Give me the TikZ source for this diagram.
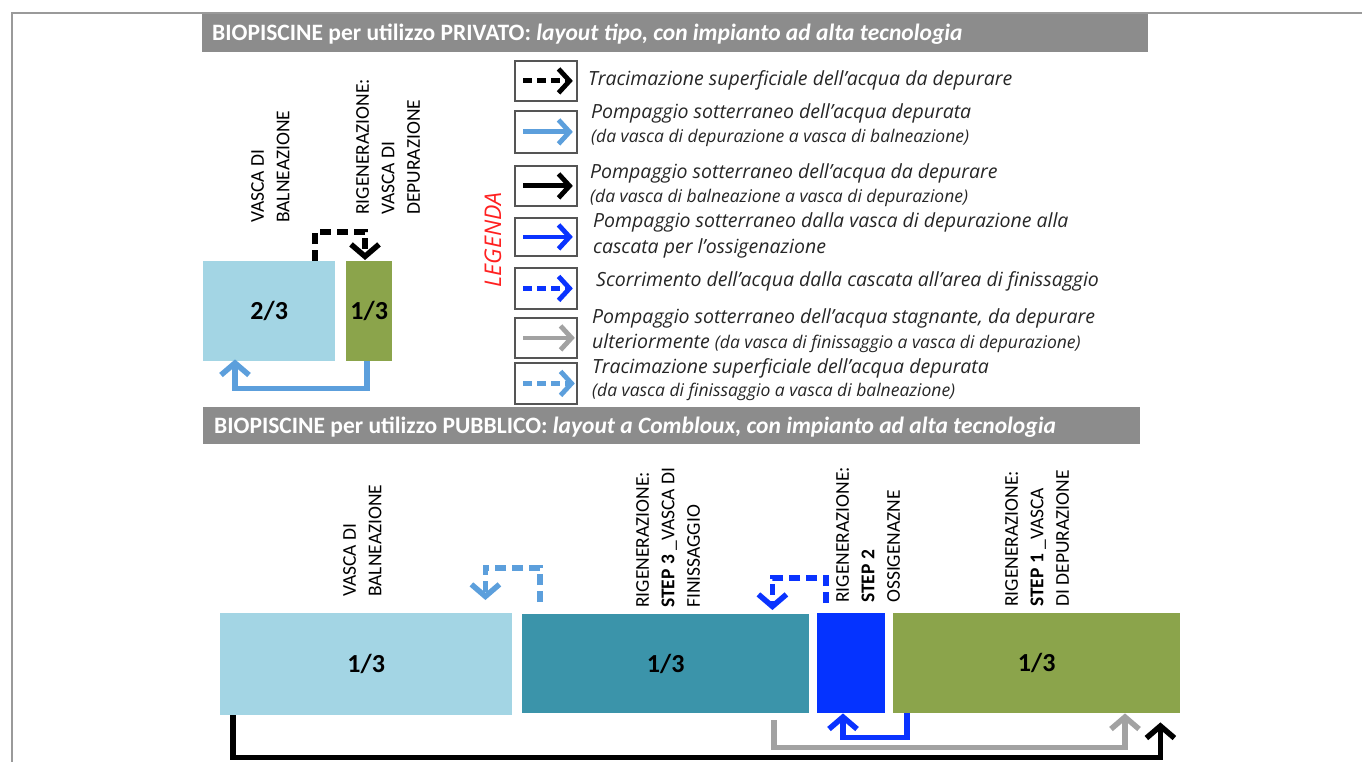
\documentclass[tikz,border=0pt]{standalone}
\usepackage{fontspec}
\setmainfont{Carlito}
\newfontfamily\legfont{Open Sans}
\usetikzlibrary{arrows.meta,calc}
\definecolor{framegray}{HTML}{9A9A9A}
\definecolor{hdrgray}{HTML}{8C8C8C}
\definecolor{poolblue}{HTML}{A3D5E4}
\definecolor{poolteal}{HTML}{3B94AA}
\definecolor{poolbright}{HTML}{0533FF}
\definecolor{poolgreen}{HTML}{8BA44B}
\definecolor{arrlight}{HTML}{5C9FDC}
\definecolor{arrblue}{HTML}{0A33FF}
\definecolor{arrgray}{HTML}{A2A2A2}
\definecolor{boxgray}{HTML}{555555}
\definecolor{legred}{HTML}{FF2020}
\tikzset{
  hdrbar/.style={fill=hdrgray, draw=none, anchor=north west, inner sep=0pt},
  hdrtext/.style={anchor=west, inner sep=0pt, text=white, font=\fontsize{23.5}{26}\selectfont\bfseries},
  pool/.style={draw=none, anchor=north west, inner sep=0pt, font=\fontsize{26}{30}\selectfont\bfseries},
  rlab/.style={rotate=90, anchor=north west, inner sep=0pt, align=left, font=\fontsize{19.5}{25.5}\selectfont},
  lbox/.style={draw=boxgray, line width=1.8pt, fill=white, anchor=north west, inner sep=0pt, minimum width=62pt},
  ltext/.style={anchor=west, inner sep=0pt, font=\legfont\itshape\fontsize{19.5}{22}\selectfont, text=black!85},
  lsmall/.style={anchor=west, inner sep=0pt, font=\legfont\itshape\fontsize{17.5}{20}\selectfont, text=black!85},
  tipA/.style={-{Straight Barb[length=12pt,width=28pt]}},
  tipL/.style={-{Straight Barb[length=11pt,width=24pt]}},
  fl/.style={line width=5.5pt, line join=miter},
  ll/.style={line width=4.8pt, line join=miter},
  dsh/.style={dash pattern=on 11pt off 6pt},
  ldsh/.style={dash pattern=on 9pt off 5pt},
}
\begin{document}
\begin{tikzpicture}[x=1pt,y=-1pt]
\useasboundingbox (0,0) rectangle (1362,762);
\fill[white] (0,0) rectangle (1362,762);
% frame
\draw[framegray, line width=2pt] (1362,13) -- (12,13) -- (12,762);

% header 1
\node[hdrbar, minimum width=946pt, minimum height=38pt] (h1) at (202,14) {};
\node[hdrtext] (h1t) at (212,34) {BIOPISCINE per utilizzo PRIVATO:\itshape\ layout tipo, con impianto ad alta tecnologia};

% private pools
\node[pool, fill=poolblue, minimum width=132pt, minimum height=100pt] (pa) at (203,261) {2/3};
\node[pool, fill=poolgreen, minimum width=46pt, minimum height=100pt] (pg) at (346,261) {1/3};
\node[rlab] (la1) at (251,223) {VASCA DI\\BALNEAZIONE};
\node[rlab] (la2) at (356,215) {RIGENERAZIONE:\\VASCA DI\\DEPURAZIONE};

\draw[fl, dsh, black, tipA] ($(pa.north west)+(112,0)$) -- ++(0,-29) -| ($(pg.north west)+(19,-1)$);
\draw[fl, arrlight, tipA] ($(pg.south west)+(21,0)$) -- ++(0,27) -| ($(pa.south west)+(32,-2)$);

% legend
\node[rotate=90, inner sep=0pt, text=legred, font=\legfont\itshape\fontsize{23}{25}\selectfont] (leg) at (493,240) {LEGENDA};

\node[lbox, minimum height=40pt] (b1) at (514,60) {};
\node[lbox, minimum height=42pt] (b2) at (514,110) {};
\node[lbox, minimum height=40pt] (b3) at (514,165) {};
\node[lbox, minimum height=38pt] (b4) at (514,217) {};
\node[lbox, minimum height=41pt] (b5) at (514,267) {};
\node[lbox, minimum height=40pt] (b6) at (514,317) {};
\node[lbox, minimum height=41pt] (b7) at (514,362) {};

\draw[ll, ldsh, black, tipL] ($(b1.west)+(9,0)$) -- ($(b1.east)+(-5,0)$);
\draw[ll, arrlight, tipL] ($(b2.west)+(9,0)$) -- ($(b2.east)+(-5,0)$);
\draw[ll, black, tipL] ($(b3.west)+(9,0)$) -- ($(b3.east)+(-5,0)$);
\draw[ll, arrblue, tipL] ($(b4.west)+(9,0)$) -- ($(b4.east)+(-5,0)$);
\draw[ll, ldsh, arrblue, tipL] ($(b5.west)+(9,0)$) -- ($(b5.east)+(-5,0)$);
\draw[ll, arrgray, tipL] ($(b6.west)+(9,0)$) -- ($(b6.east)+(-3,0)$);
\draw[ll, ldsh, arrlight, tipL] ($(b7.west)+(9,0)$) -- ($(b7.east)+(-3,0)$);

\node[ltext] (t1) at (588,80) {Tracimazione superficiale dell’acqua da depurare};
\node[ltext] (t2a) at (591,113) {Pompaggio sotterraneo dell’acqua depurata};
\node[lsmall] (t2b) at (591,138) {(da vasca di depurazione a vasca di balneazione)};
\node[ltext] (t3a) at (590,173) {Pompaggio sotterraneo dell’acqua da depurare};
\node[lsmall] (t3b) at (590,198) {(da vasca di balneazione a vasca di depurazione)};
\node[ltext] (t4a) at (593,222) {Pompaggio sotterraneo dalla vasca di depurazione alla};
\node[ltext] (t4b) at (593,248) {cascata per l’ossigenazione};
\node[ltext] (t5) at (596,281) {Scorrimento dell’acqua dalla cascata all’area di finissaggio};
\node[ltext] (t6a) at (592,318) {Pompaggio sotterraneo dell’acqua stagnante, da depurare};
\node[ltext] (t6b) at (592,343) {ulteriormente \fontsize{17.5}{20}\selectfont(da vasca di finissaggio a vasca di depurazione)};
\node[ltext] (t7a) at (592,368) {Tracimazione superficiale dell’acqua depurata};
\node[lsmall] (t7b) at (592,392) {(da vasca di finissaggio a vasca di balneazione)};

% header 2
\node[hdrbar, minimum width=937pt, minimum height=37pt] (h2) at (203,407) {};
\node[hdrtext] (h2t) at (214,427) {BIOPISCINE per utilizzo PUBBLICO:\itshape\ layout a Combloux, con impianto ad alta tecnologia};

% public pools
\node[pool, fill=poolblue, minimum width=292pt, minimum height=102pt] (pb) at (220,613) {1/3};
\node[pool, fill=poolteal, minimum width=287pt, minimum height=99pt] (pt) at (522,614) {1/3};
\node[pool, fill=poolbright, minimum width=68pt, minimum height=100pt] (pbl) at (817,613) {};
\node[pool, fill=poolgreen, minimum width=287pt, minimum height=100pt] (pgr) at (893,613) {1/3};

\node[rlab] (lb1) at (343,597) {VASCA DI\\BALNEAZIONE};
\node[rlab] (lb2) at (636,608) {RIGENERAZIONE:\\\textbf{STEP 3} \_VASCA DI\\FINISSAGGIO};
\node[rlab] (lb3) at (836,603) {RIGENERAZIONE:\\\textbf{STEP 2}\\OSSIGENAZNE};
\node[rlab] (lb4) at (1005,607) {RIGENERAZIONE:\\\textbf{STEP 1} \_VASCA\\DI DEPURAZIONE};

\draw[fl, dsh, arrlight, tipA] ($(pt.north west)+(18,-12)$) -- ++(0,-34) -| ($(pb.north east)+(-27,-13)$);
\draw[fl, dsh, arrblue, tipA] ($(pbl.north west)+(9,-10)$) -- ++(0,-25) -| ($(pt.north east)+(-37,-4)$);
\draw[fl, arrblue, tipA] ($(pgr.south west)+(14,0)$) -- ++(0,24) -| ($(pbl.south west)+(26,0)$);
\draw[fl, arrgray, tipA] ($(pt.south west)+(252,7)$) -- ++(0,27) -| ($(pgr.south west)+(232,0)$);
\draw[fl, black, tipA] ($(pb.south west)+(13,0)$) -- ++(0,42) -| ($(pgr.south east)+(-20,9)$);
\end{tikzpicture}
\end{document}
